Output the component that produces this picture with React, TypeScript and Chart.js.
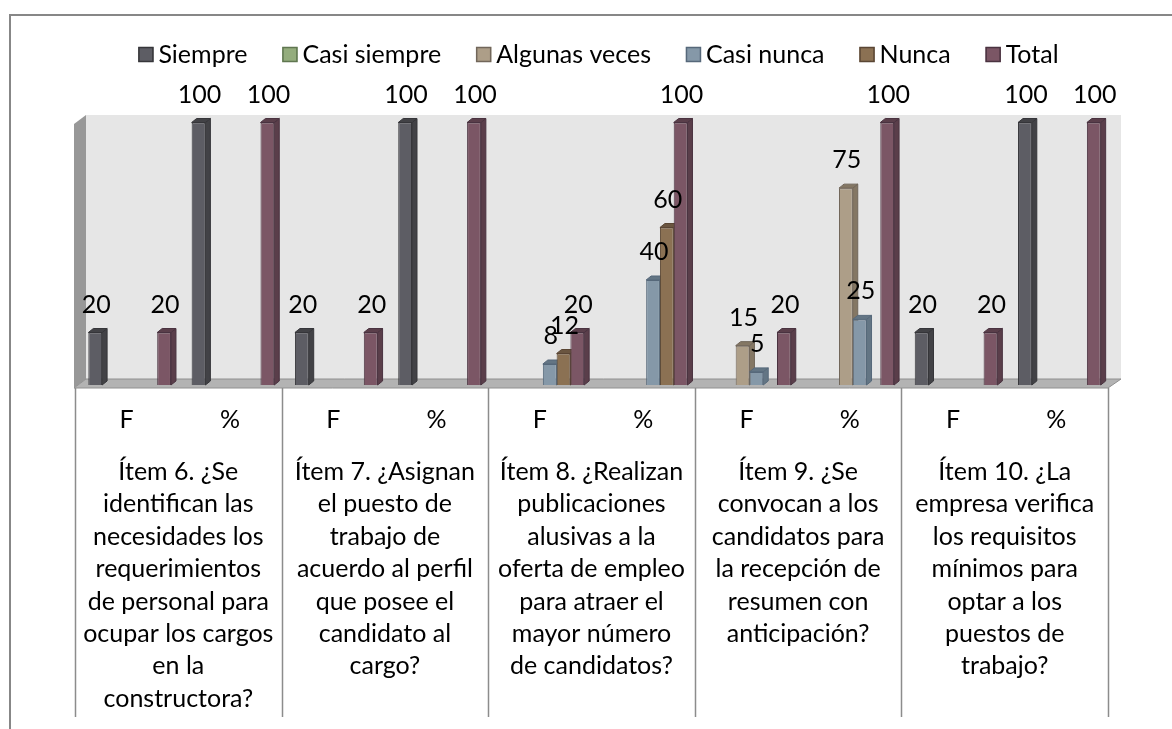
import { useEffect, useRef } from "react";
import { Chart, registerables } from "chart.js";

Chart.register(...registerables);

const categories = ["F", "%", "F", "%", "F", "%", "F", "%", "F", "%"];
const seriesNames = ["Siempre", "Casi siempre", "Algunas veces", "Casi nunca", "Nunca", "Total"];
const siempre = [20, 100, 20, 100, 0, 0, 0, 0, 20, 100];
const casiSiempre = [0, 0, 0, 0, 0, 0, 0, 0, 0, 0];
const algunasVeces = [0, 0, 0, 0, 0, 0, 15, 75, 0, 0];
const casiNunca = [0, 0, 0, 0, 8, 40, 5, 25, 0, 0];
const nunca = [0, 0, 0, 0, 12, 60, 0, 0, 0, 0];
const total = [20, 100, 20, 100, 20, 100, 20, 100, 20, 100];

const itemLabels = [
  ["Ítem 6. ¿Se", "identifican las", "necesidades los", "requerimientos", "de personal para", "ocupar los cargos", "en la", "constructora?"],
  ["Ítem 7. ¿Asignan", "el puesto de", "trabajo de", "acuerdo al perfil", "que posee el", "candidato al", "cargo?"],
  ["Ítem 8. ¿Realizan", "publicaciones", "alusivas a la", "oferta de empleo", "para atraer el", "mayor número", "de candidatos?"],
  ["Ítem 9. ¿Se", "convocan a los", "candidatos para", "la recepción de", "resumen con", "anticipación?"],
  ["Ítem 10. ¿La", "empresa verifica", "los requisitos", "mínimos para", "optar a los", "puestos de", "trabajo?"],
];

const seriesValues = [siempre, casiSiempre, algunasVeces, casiNunca, nunca, total];

const FRONT = ["#5d5d64", "#94ad7d", "#ad9e88", "#8598a8", "#8b7153", "#7b5665"];
const SIDE = ["#424246", "#6d845b", "#847764", "#637584", "#6a5540", "#5a3e4a"];
const EDGE = ["#36363a", "#5f7650", "#71665a", "#56687a", "#5a4634", "#4a3340"];

const FONT = "Lato, 'Open Sans', sans-serif";
const FS = 25;
const DX = 5;
const DY = 4;
const SHIFT = 3;

const scenePlugin = {
  id: "scene",
  beforeDraw(chart: any) {
    const { ctx, chartArea } = chart;
    const L = chartArea.left, R = chartArea.right, T = chartArea.top, B = chartArea.bottom;
    ctx.save();
    ctx.fillStyle = "#ffffff";
    ctx.fillRect(0, 0, chart.width, chart.height);
    ctx.fillStyle = "#e6e6e6";
    ctx.fillRect(L + 11, T - 7.5, R + 13 - (L + 11), B - 6 - (T - 7.5));
    ctx.fillStyle = "#989898";
    ctx.beginPath();
    ctx.moveTo(L - 1, T + 1.5);
    ctx.lineTo(L + 11, T - 7.5);
    ctx.lineTo(L + 11, B - 6);
    ctx.lineTo(L - 1, B + 3);
    ctx.closePath();
    ctx.fill();
    ctx.fillStyle = "#b3b3b3";
    ctx.strokeStyle = "#909090";
    ctx.lineWidth = 1;
    ctx.beginPath();
    ctx.moveTo(L - 1, B + 3);
    ctx.lineTo(L + 11, B - 6);
    ctx.lineTo(R + 13, B - 6);
    ctx.lineTo(R, B + 3);
    ctx.closePath();
    ctx.fill();
    ctx.stroke();
    ctx.restore();
  },
  beforeDatasetsDraw(chart: any) {
    const { ctx } = chart;
    ctx.save();
    ctx.translate(SHIFT, 0);
    chart.data.datasets.forEach((ds: any, di: number) => {
      const meta = chart.getDatasetMeta(di);
      meta.data.forEach((bar: any, i: number) => {
        const v = ds.data[i];
        if (!v) return;
        const p = bar.getProps(["x", "y", "base", "width"], true);
        const left = p.x - p.width / 2;
        const right = p.x + p.width / 2;
        ctx.fillStyle = SIDE[di];
        ctx.strokeStyle = EDGE[di];
        ctx.lineWidth = 1;
        ctx.beginPath();
        ctx.moveTo(right, p.y);
        ctx.lineTo(right + DX, p.y - DY);
        ctx.lineTo(right + DX, p.base - DY);
        ctx.lineTo(right, p.base);
        ctx.closePath();
        ctx.fill();
        ctx.stroke();
        ctx.beginPath();
        ctx.moveTo(left, p.y);
        ctx.lineTo(left + DX, p.y - DY);
        ctx.lineTo(right + DX, p.y - DY);
        ctx.lineTo(right, p.y);
        ctx.closePath();
        ctx.fill();
        ctx.stroke();
      });
    });
  },
  afterDatasetsDraw(chart: any) {
    const { ctx } = chart;
    ctx.restore();
    ctx.save();
    ctx.font = `${FS}px ${FONT}`;
    ctx.fillStyle = "#000";
    ctx.textAlign = "center";
    ctx.textBaseline = "alphabetic";
    chart.data.datasets.forEach((ds: any, di: number) => {
      const meta = chart.getDatasetMeta(di);
      meta.data.forEach((bar: any, i: number) => {
        const v = ds.data[i];
        if (!v) return;
        const p = bar.getProps(["x", "y"], true);
        ctx.fillText(String(v), p.x + SHIFT + 1, p.y - 20);
      });
    });
    ctx.restore();
  },
  afterDraw(chart: any) {
    const { ctx, chartArea } = chart;
    const L = chartArea.left, R = chartArea.right, B = chartArea.bottom;
    const cw = (R - L) / categories.length;
    ctx.save();
    ctx.strokeStyle = "#8c8c8c";
    ctx.lineWidth = 1.5;
    for (let k = 0; k <= itemLabels.length; k++) {
      const x = Math.round(L + k * 2 * cw) + 0.5;
      ctx.beginPath();
      ctx.moveTo(x, B + 3);
      ctx.lineTo(x, 717);
      ctx.stroke();
    }
    ctx.font = `${FS}px ${FONT}`;
    ctx.fillStyle = "#000";
    ctx.textAlign = "center";
    ctx.textBaseline = "alphabetic";
    itemLabels.forEach((lines, k) => {
      const cx = L + (2 * k + 1) * cw;
      lines.forEach((ln, j) => ctx.fillText(ln, cx, 480 + 32.4 * j));
    });
    const box = 15, gap = 5, spacing = 35;
    const widths = seriesNames.map((n) => ctx.measureText(n).width);
    const totalW = widths.reduce((a, w) => a + box + gap + w, 0) + spacing * (seriesNames.length - 1);
    let x = 598.5 - totalW / 2;
    ctx.textAlign = "left";
    seriesNames.forEach((n, i) => {
      ctx.fillStyle = FRONT[i];
      ctx.fillRect(x, 47, box, box);
      ctx.strokeStyle = EDGE[i];
      ctx.lineWidth = 1.5;
      ctx.strokeRect(x + 0.5, 47.5, box - 1, box - 1);
      ctx.fillStyle = "#000";
      ctx.fillText(n, x + box + gap, 63);
      x += box + gap + widths[i] + spacing;
    });
    ctx.strokeStyle = "#878787";
    ctx.lineWidth = 2;
    ctx.beginPath();
    ctx.moveTo(10, chart.height + 10);
    ctx.lineTo(10, 15);
    ctx.lineTo(chart.width + 10, 15);
    ctx.stroke();
    ctx.restore();
  },
};

export default function App() {
  const ref = useRef<HTMLCanvasElement>(null);
  useEffect(() => {
    const chart = new Chart(ref.current as HTMLCanvasElement, {
      type: "bar",
      data: {
        labels: categories,
        datasets: seriesNames.map((name, i) => ({
          label: name,
          data: seriesValues[i],
          backgroundColor: FRONT[i],
          borderColor: EDGE[i],
          borderWidth: (c: any) => (c.raw ? 1 : 0),
          borderSkipped: "bottom",
          categoryPercentage: 0.8,
          barPercentage: 1,
        })),
      },
      options: {
        responsive: false,
        animation: false,
        devicePixelRatio: 1,
        layout: { padding: { left: 75, right: 100, top: 122.5, bottom: 284 } },
        plugins: { legend: { display: false }, tooltip: { enabled: false } },
        scales: {
          y: { display: false, min: 0, max: 100 },
          x: {
            grid: { display: false, drawTicks: false },
            border: { display: false },
            ticks: {
              color: "#000",
              font: { family: FONT, size: FS },
              padding: 20,
              maxRotation: 0,
              autoSkip: false,
            },
            afterFit: (s: any) => {
              s.height = 60;
            },
          },
        },
      } as any,
      plugins: [scenePlugin],
    });
    return () => chart.destroy();
  }, []);
  return (
    <div style={{ position: "fixed", left: 0, top: 0, width: 1172, height: 729, overflow: "hidden", background: "#fff" }}>
      <canvas ref={ref} width={1208} height={729} style={{ display: "block", width: 1208, height: 729 }} />
    </div>
  );
}
